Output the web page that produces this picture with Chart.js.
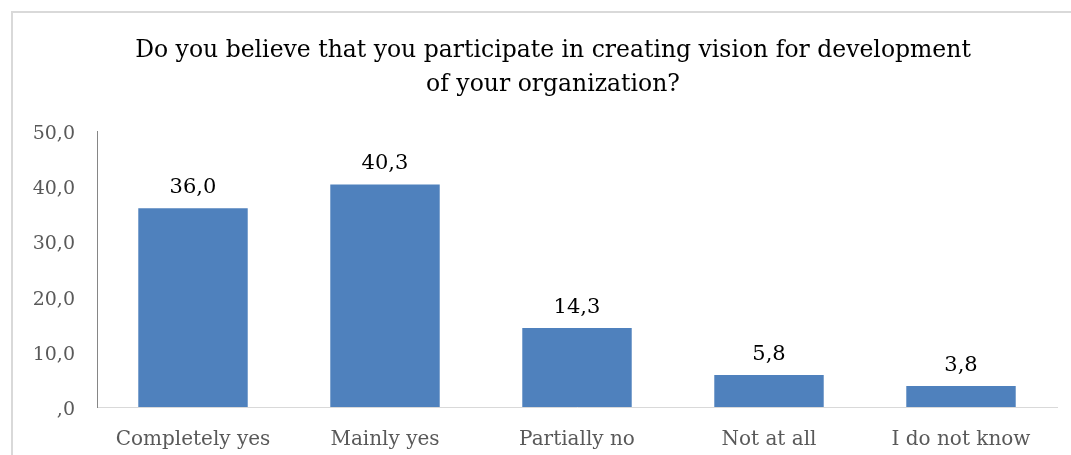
<!DOCTYPE html>
<html lang="en">
<head>
<meta charset="UTF-8">
<title>Participation in creating vision</title>
<script src="https://cdn.jsdelivr.net/npm/chart.js"></script>
<style>
    html, body { margin: 0; padding: 0; background: #fff; }
    #wrap { position: relative; width: 1071px; height: 455px; }
</style>
</head>
<body>
<div id="wrap"><canvas id="grafico" width="1071" height="455"></canvas></div>
<script>
    // dados do grafico
    const categorias = ['Completely yes', 'Mainly yes', 'Partially no', 'Not at all', 'I do not know'];
    const valores = [36.0, 40.3, 14.3, 5.8, 3.8];
    const tituloLinhas = ['Do you believe that you participate in creating vision for development', 'of your organization?'];
    const eixoY = { min: 0, max: 50, passo: 10 };

    const fonte = "'DejaVu Serif', serif";

    function formatar(v) {
        if (v === 0) return ',0';
        return v.toFixed(1).replace('.', ',');
    }

    // moldura e titulo
    const molduraPlugin = {
        id: 'moldura',
        beforeDraw(chart) {
            const ctx = chart.ctx;
            ctx.save();
            ctx.fillStyle = '#fff';
            ctx.fillRect(0, 0, chart.width, chart.height);
            ctx.strokeStyle = '#d9d9d9';
            ctx.lineWidth = 2;
            ctx.beginPath();
            ctx.moveTo(12, chart.height);
            ctx.lineTo(12, 12);
            ctx.lineTo(chart.width, 12);
            ctx.stroke();
            ctx.fillStyle = '#000';
            ctx.font = '23.5px ' + fonte;
            ctx.textAlign = 'center';
            ctx.textBaseline = 'middle';
            ctx.fillText(tituloLinhas[0], 553, 51);
            ctx.fillText(tituloLinhas[1], 553, 85);
            ctx.restore();
        }
    };

    // rotulos de valor acima das barras
    const rotulosPlugin = {
        id: 'rotulos',
        afterDatasetsDraw(chart) {
            const ctx = chart.ctx;
            const meta = chart.getDatasetMeta(0);
            ctx.save();
            ctx.fillStyle = '#000';
            ctx.font = '21px ' + fonte;
            ctx.textAlign = 'center';
            ctx.textBaseline = 'bottom';
            meta.data.forEach((bar, i) => {
                ctx.fillText(formatar(valores[i]), bar.x, bar.y - 10);
            });
            ctx.restore();
        }
    };

    new Chart(document.getElementById('grafico'), {
        type: 'bar',
        data: {
            labels: categorias,
            datasets: [{
                data: valores,
                backgroundColor: '#4f81bd',
                borderWidth: 0,
                categoryPercentage: 0.57,
                barPercentage: 1
            }]
        },
        options: {
            responsive: false,
            animation: false,
            layout: { padding: { top: 131, right: 14, left: 0, bottom: 0 } },
            plugins: { legend: { display: false }, tooltip: { enabled: false }, title: { display: false } },
            scales: {
                x: {
                    grid: { display: false },
                    border: { display: true, color: '#d9d9d9', width: 1 },
                    ticks: { color: '#595959', font: { family: fonte, size: 20 }, padding: 13 },
                    afterFit(s) { s.height = 48; }
                },
                y: {
                    min: eixoY.min,
                    max: eixoY.max,
                    grid: { display: false },
                    border: { display: true, color: '#868686', width: 1 },
                    ticks: {
                        stepSize: eixoY.passo,
                        color: '#595959',
                        font: { family: fonte, size: 19 },
                        padding: 14,
                        labelOffset: 3,
                        callback: v => formatar(v)
                    },
                    afterFit(s) { s.width = 97; }
                }
            }
        },
        plugins: [molduraPlugin, rotulosPlugin]
    });
</script>
</body>
</html>
